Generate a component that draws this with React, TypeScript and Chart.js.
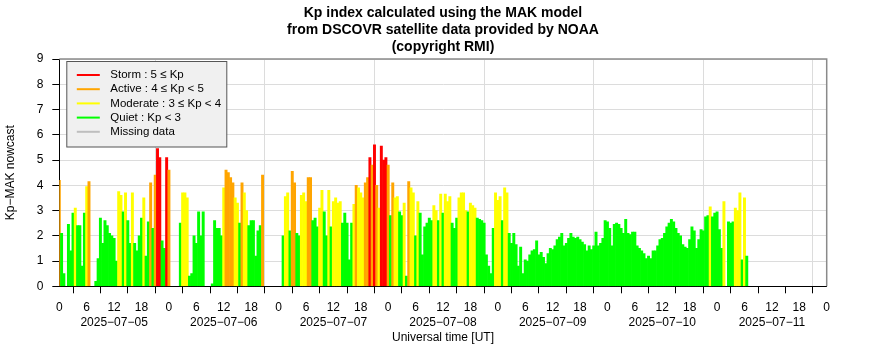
import React, { useEffect, useRef } from "react";
import { Chart, registerables } from "chart.js";

Chart.register(...registerables);

const FONT = '"Liberation Sans", Arial, Helvetica, sans-serif';

const titleLines = [
  "Kp index calculated using the MAK model",
  "from DSCOVR satellite data provided by NOAA",
  "(copyright RMI)",
];

const dayLabels = [
  "2025−07−05",
  "2025−07−06",
  "2025−07−07",
  "2025−07−08",
  "2025−07−09",
  "2025−07−10",
  "2025−07−11",
];

const xAxisTitle = "Universal time [UT]";
const yAxisTitle = "Kp−MAK nowcast";

// half-hour samples, one array per UT day (null = no data)
const slotHours = 0.5;

const day1: (number | null)[] = [
  4.2, 2.1, 0.5, null, 2.45, 1.4, 2.9, 3.1, 2.4, 2.4, 0.8, 2.9,
  3.95, 4.15, null, null, 0.2, 1.1, 2.7, 1.7, 2.6, 2.4, 2.1, 2.0,
  1.9, 1.0, 3.75, 3.6, 2.95, 3.7, 2.6, 1.7, 3.7, 1.7, 1.4, 2.0,
  2.7, 3.5, 1.2, 2.55, 4.1, 2.3, 4.4, 5.45, 5.1, 1.8, 1.5, 5.1,
];

const day2: (number | null)[] = [
  4.6, null, null, null, null, 2.5, 3.7, 3.7, 3.5, 0.4, 0.5, 2.0,
  1.7, 2.95, 2.0, 2.95, null, null, null, 0.1, 2.6, 2.3, 2.3, 2.0,
  3.9, 4.6, 4.5, 4.3, 4.1, 3.5, 3.3, 2.5, 4.1, 3.7, 3.0, 2.4,
  2.6, 2.6, 1.2, 2.2, 2.4, 4.4, null, null, null, null, null, null,
];

const day3: (number | null)[] = [
  null, null, 2.0, 3.55, 3.7, 2.2, 4.55, 4.1, 2.1, 2.0, 3.6, 3.7,
  3.35, 4.3, 4.3, 2.6, 2.7, 2.35, 3.1, 3.8, 2.95, 2.0, 3.8, 2.35,
  3.35, 3.5, 3.3, 3.35, 2.5, 2.9, 2.5, 1.05, 2.5, 3.25, 4.0, 3.9,
  3.7, 3.5, 4.1, 4.3, 5.1, 4.8, 5.6, 4.0, 3.1, 5.55, 5.0, 5.1,
];

const day4: (number | null)[] = [
  4.8, 2.8, 4.1, 3.5, 3.55, 2.95, 2.8, 3.3, 0.4, 4.15, 3.9, 3.7,
  2.0, 3.35, 2.9, 1.25, 2.35, 2.5, 2.7, 2.6, 3.2, 3.0, 2.6, 3.65,
  2.9, 3.65, 3.35, 3.55, 2.5, 2.3, 2.7, 3.5, 3.7, 3.7, 3.0, 2.95,
  3.3, 3.2, 3.1, 2.7, 2.65, 2.6, 2.5, 1.25, 0.8, 0.5, 2.3, 3.7,
];

const day5: (number | null)[] = [
  3.4, 3.55, 2.6, 3.9, 3.7, 2.1, 1.7, 2.1, 1.65, 0.8, 1.55, 0.5,
  1.05, 1.0, 1.25, 1.4, 1.45, 1.8, 1.25, 1.35, 1.15, 0.9, 1.3, 1.5,
  1.45, 1.6, 1.85, 1.95, 2.1, 1.6, 1.7, 1.9, 2.1, 1.95, 1.9, 1.95,
  1.85, 1.75, 1.65, 1.4, 1.6, 1.45, 1.6, 2.15, 1.6, 1.7, 1.9, 2.6,
];

const day6: (number | null)[] = [
  2.55, 2.3, 1.6, 2.45, 2.5, 2.45, 2.3, 2.1, 2.65, 2.1, 2.05, 2.15,
  2.15, 1.6, 1.5, 1.4, 1.3, 1.1, 1.2, 1.1, 1.4, 1.4, 1.6, 1.85,
  1.9, 2.1, 2.35, 2.5, 2.65, 2.55, 2.3, 2.1, 2.0, 1.65, 1.55, 1.5,
  1.85, 2.35, 2.2, 1.5, 1.85, 2.25, 2.2, 2.75, 2.8, 3.15, 2.75, 2.9,
];

const day7: (number | null)[] = [
  2.95, 2.25, 1.5, 3.35, null, 2.55, 2.5, 2.55, 3.1, 3.0, 3.7, 1.05,
  3.5, 1.2,
];

const days = [day1, day2, day3, day4, day5, day6, day7];

const legendLabels = [
  "Storm : 5 ≤ Kp",
  "Active : 4 ≤ Kp < 5",
  "Moderate : 3 ≤ Kp < 4",
  "Quiet : Kp < 3",
  "Missing data",
];
const legendColors = ["#FF0000", "#FFA500", "#FFFF00", "#00FF00", "#BEBEBE"];

const yMin = 0;
const yMax = 9;
const xMinHours = 0;
const xMaxHours = 168;
const xStepHours = 6;

function colorFor(v: number | null | undefined): string {
  if (v == null) return legendColors[4];
  if (v >= 5) return legendColors[0];
  if (v >= 4) return legendColors[1];
  if (v >= 3) return legendColors[2];
  return legendColors[3];
}

const decorPlugin = {
  id: "decor",
  afterDraw(chart: any) {
    const { ctx, chartArea: a } = chart;
    ctx.save();
    // frame (top / right)
    ctx.strokeStyle = "#8a8a8a";
    ctx.lineWidth = 1.5;
    ctx.beginPath();
    ctx.moveTo(a.left, a.top);
    ctx.lineTo(a.right, a.top);
    ctx.lineTo(a.right, a.bottom);
    ctx.stroke();

    // title
    ctx.fillStyle = "#000";
    ctx.font = `bold 14px ${FONT}`;
    ctx.textAlign = "center";
    ctx.textBaseline = "middle";
    const cx = (a.left + a.right) / 2;
    titleLines.forEach((t, i) => ctx.fillText(t, cx, 13.5 + i * 17));

    // legend box
    const lx = a.left + 7.5;
    const ly = a.top + 2.5;
    const lw = 160;
    const lh = 85.5;
    ctx.fillStyle = "#F0F0F0";
    ctx.fillRect(lx, ly, lw, lh);
    ctx.strokeStyle = "#555";
    ctx.lineWidth = 1;
    ctx.strokeRect(lx, ly, lw, lh);
    ctx.font = `11.5px ${FONT}`;
    ctx.textAlign = "left";
    legendLabels.forEach((t, i) => {
      const y = ly + 13.5 + i * 14.2;
      ctx.strokeStyle = legendColors[i];
      ctx.lineWidth = 2;
      ctx.beginPath();
      ctx.moveTo(lx + 10, y);
      ctx.lineTo(lx + 33, y);
      ctx.stroke();
      ctx.fillStyle = "#000";
      ctx.fillText(t, lx + 43.5, y);
    });
    ctx.restore();
  },
};

export default function App() {
  const canvasRef = useRef<HTMLCanvasElement | null>(null);

  useEffect(() => {
    if (!canvasRef.current) return;
    const points: { x: number; y: number }[] = [];
    days.forEach((arr, d) =>
      arr.forEach((v, i) => {
        if (v !== null) points.push({ x: d * 24 + i * slotHours, y: v });
      })
    );

    const chart = new Chart(canvasRef.current, {
      type: "bar",
      data: {
        datasets: [
          {
            label: "Kp",
            data: points as any,
            backgroundColor: (ctx: any) => colorFor(ctx.raw ? ctx.raw.y : null),
            borderWidth: 0,
            barPercentage: 1,
            categoryPercentage: 1,
          },
        ],
      },
      options: {
        responsive: false,
        animation: false,
        devicePixelRatio: 1,
        layout: { padding: { top: 59, right: 59.3, bottom: 0, left: 0 } },
        plugins: {
          legend: { display: false },
          title: { display: false },
          tooltip: { enabled: false },
        },
        scales: {
          x: {
            type: "linear",
            min: xMinHours,
            max: xMaxHours,
            offset: false,
            ticks: {
              stepSize: xStepHours,
              autoSkip: false,
              maxRotation: 0,
              color: "#000",
              padding: 7,
              font: { family: FONT, size: 12, lineHeight: "15px" },
              callback: (val: any) => {
                const v = Number(val);
                const h = ((v % 24) + 24) % 24;
                const d = Math.floor(v / 24);
                if (h === 12 && dayLabels[d]) return [String(h), dayLabels[d]];
                return String(h);
              },
            },
            grid: {
              color: (ctx: any) =>
                ctx.tick && ctx.tick.value % 24 === 0 ? "#dcdcdc" : "rgba(0,0,0,0)",
              lineWidth: 1,
              tickLength: 7,
              tickColor: "#000",
              drawTicks: true,
            },
            border: { color: "#000", width: 1 },
            title: {
              display: true,
              text: xAxisTitle,
              color: "#000",
              font: { family: FONT, size: 12 },
              padding: { top: 0, bottom: 15.3 },
            },
            afterFit: (s: any) => {
              s.height = 73.7;
            },
          } as any,
          y: {
            min: yMin,
            max: yMax,
            ticks: {
              stepSize: 1,
              color: "#000",
              padding: 9,
              font: { family: FONT, size: 12 },
            },
            grid: {
              color: "#dcdcdc",
              lineWidth: 1,
              tickLength: 7,
              tickColor: "#000",
              drawTicks: true,
            },
            border: { color: "#000", width: 1 },
            title: {
              display: true,
              text: yAxisTitle,
              color: "#000",
              font: { family: FONT, size: 12 },
              padding: { top: 3, bottom: 0 },
            },
            afterFit: (s: any) => {
              s.width = 59.3;
            },
          } as any,
        },
      },
      plugins: [decorPlugin],
    });
    return () => chart.destroy();
  }, []);

  return (
    <div style={{ position: "fixed", left: 0, top: 0, width: 886, height: 360, background: "#fff" }}>
      <canvas ref={canvasRef} width={886} height={360} style={{ width: 886, height: 360 }} />
    </div>
  );
}
